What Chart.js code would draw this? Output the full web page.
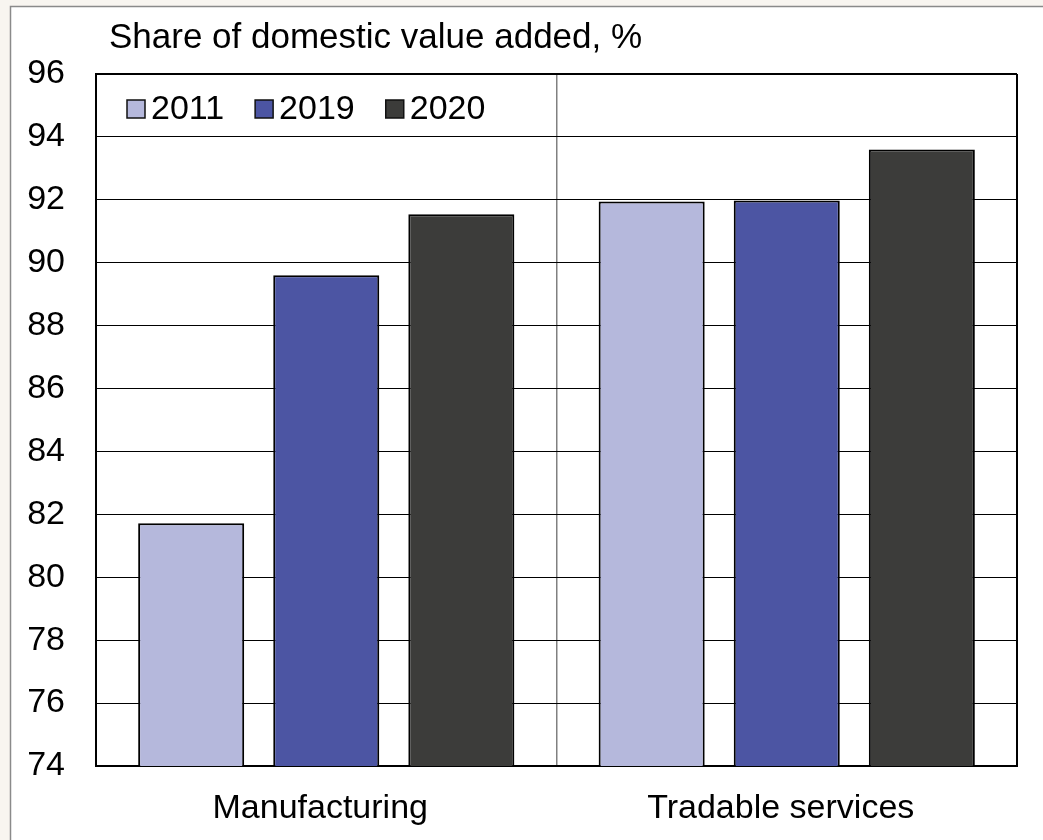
<!DOCTYPE html>
<html>
<head>
<meta charset="utf-8">
<script src="https://cdn.jsdelivr.net/npm/chart.js@4"></script>
<style>
html,body{margin:0;padding:0;background:#f8f5f0;}
canvas{display:block;}
</style>
</head>
<body>
<canvas id="c" width="1043" height="840"></canvas>
<script>
const categories = ["Manufacturing", "Tradable services"];
const seriesLabels = ["2011", "2019", "2020"];
const values2011 = [81.72, 91.95];
const values2019 = [89.60, 91.98];
const values2020 = [91.54, 93.60];
const yTicks = [74, 76, 78, 80, 82, 84, 86, 88, 90, 92, 94, 96];
const titleText = "Share of domestic value added, %";

const colors = ["#b5b8dc", "#4c55a3", "#3c3c3a"];
const FONT = "Liberation Sans, Arial, sans-serif";

const decor = {
  id: "decor",
  beforeDraw(chart) {
    const ctx = chart.ctx;
    ctx.save();
    ctx.fillStyle = "#f8f5f0";
    ctx.fillRect(0, 0, chart.width, chart.height);
    ctx.fillStyle = "#ffffff";
    ctx.fillRect(10, 6, chart.width - 10, chart.height - 6);
    ctx.strokeStyle = "#8a8a8a";
    ctx.lineWidth = 1.5;
    ctx.beginPath();
    ctx.moveTo(10.5, chart.height);
    ctx.lineTo(10.5, 6.5);
    ctx.lineTo(chart.width, 6.5);
    ctx.stroke();
    ctx.restore();
  },
  afterDraw(chart) {
    const ctx = chart.ctx;
    ctx.save();
    ctx.fillStyle = "#000";
    ctx.font = "35px " + FONT;
    ctx.textBaseline = "alphabetic";
    ctx.textAlign = "left";
    ctx.fillText(titleText, 109, 48);
    // legend
    ctx.font = "34px " + FONT;
    ctx.textBaseline = "middle";
    let x = 127;
    const yc = 109;
    chart.data.datasets.forEach((ds) => {
      ctx.fillStyle = ds.backgroundColor;
      ctx.fillRect(x, yc - 9, 18, 18);
      ctx.strokeStyle = "#111";
      ctx.lineWidth = 1.5;
      ctx.strokeRect(x, yc - 9, 18, 18);
      ctx.fillStyle = "#000";
      ctx.fillText(ds.label, x + 24, yc + 1);
      x += 24 + ctx.measureText(ds.label).width + 31;
    });
    ctx.restore();
  }
};

new Chart(document.getElementById("c"), {
  type: "bar",
  data: {
    labels: categories,
    datasets: [
      { label: seriesLabels[0], data: values2011, backgroundColor: colors[0] },
      { label: seriesLabels[1], data: values2019, backgroundColor: colors[1] },
      { label: seriesLabels[2], data: values2020, backgroundColor: colors[2] }
    ].map(d => Object.assign(d, {
      borderColor: "#000",
      borderWidth: 2,
      borderSkipped: false,
      categoryPercentage: 0.88,
      barPercentage: 0.785
    }))
  },
  options: {
    responsive: false,
    animation: false,
    devicePixelRatio: 1,
    layout: { padding: { left: 10, right: 26, top: 74, bottom: 0 } },
    plugins: {
      legend: { display: false },
      tooltip: { enabled: false },
      title: { display: false }
    },
    scales: {
      x: {
        grid: {
          display: true,
          offset: true,
          drawTicks: false,
          color: (c) => (c.index === 1 ? "#808080" : "#000"),
          lineWidth: (c) => (c.index === 1 ? 1.5 : 2)
        },
        border: { display: true, color: "#000", width: 2 },
        ticks: {
          color: "#000",
          font: { family: FONT, size: 34 },
          padding: 22,
          labelOffset: -6
        },
        afterFit(scale) { scale.height = 74; }
      },
      y: {
        min: 74,
        max: 96,
        afterBuildTicks(scale) { scale.ticks = yTicks.map(v => ({ value: v })); },
        grid: {
          drawTicks: false,
          color: "#000",
          lineWidth: (c) => (c.tick && c.tick.value === 96 ? 2 : 1)
        },
        border: { display: true, color: "#000", width: 2 },
        ticks: {
          color: "#000",
          font: { family: FONT, size: 34 },
          padding: 31
        },
        afterFit(scale) { scale.width = 86; }
      }
    }
  },
  plugins: [decor]
});
</script>
</body>
</html>
